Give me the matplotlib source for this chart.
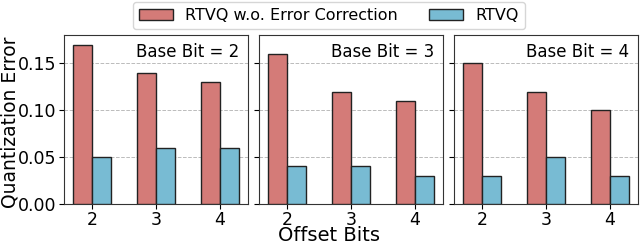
import matplotlib
matplotlib.use("Agg")
import matplotlib.pyplot as plt
import numpy as np

offset_bits = [2, 3, 4]
base_bits = [2, 3, 4]
wo_correction = [[0.17, 0.14, 0.13], [0.16, 0.12, 0.11], [0.15, 0.12, 0.10]]
rtvq = [[0.05, 0.06, 0.06], [0.04, 0.04, 0.03], [0.03, 0.05, 0.03]]
labels = ["RTVQ w.o. Error Correction", "RTVQ"]
colors = ["#d47b78", "#78bbd3"]

fig, axes = plt.subplots(1, 3, figsize=(6.4, 2.44), dpi=100, sharey=True)
fig.subplots_adjust(left=0.1, right=0.997, top=0.855, bottom=0.165, wspace=0.06)
w = 0.3
x = np.array(offset_bits)
for i, ax in enumerate(axes):
    ax.bar(x - w/2, wo_correction[i], w, color=colors[0], edgecolor="#222222", linewidth=1, label=labels[0], zorder=3)
    ax.bar(x + w/2, rtvq[i], w, color=colors[1], edgecolor="#222222", linewidth=1, label=labels[1], zorder=3)
    ax.set_xlim(1.56, 4.44)
    ax.set_ylim(0, 0.18)
    ax.set_xticks(offset_bits)
    ax.set_yticks([0.0, 0.05, 0.10, 0.15])
    ax.tick_params(labelsize=12.5, pad=2)
    ax.grid(axis="y", linestyle="--", color="#bbbbbb", linewidth=0.7, zorder=0)
    for s in ax.spines.values():
        s.set_color("#333333")
    ax.text(0.95, 0.9, f"Base Bit = {base_bits[i]}", transform=ax.transAxes, ha="right", va="center", fontsize=12)
axes[0].yaxis.set_major_formatter(matplotlib.ticker.FormatStrFormatter("%.2f"))
fig.text(1 / 640, 0.5, "Quantization Error", rotation=90, ha="left", va="center", fontsize=13.5)
fig.text(0.514, -0.004, "Offset Bits", ha="center", va="bottom", fontsize=14)
h, l = axes[0].get_legend_handles_labels()
fig.legend(h, l, loc="upper center", bbox_to_anchor=(0.514, 1.0), ncol=2, fontsize=11.5,
           frameon=True, columnspacing=1.95, handlelength=2.1, handletextpad=0.8,
           borderpad=0.4, borderaxespad=0.1)
fig.savefig("out.png", dpi=100)
